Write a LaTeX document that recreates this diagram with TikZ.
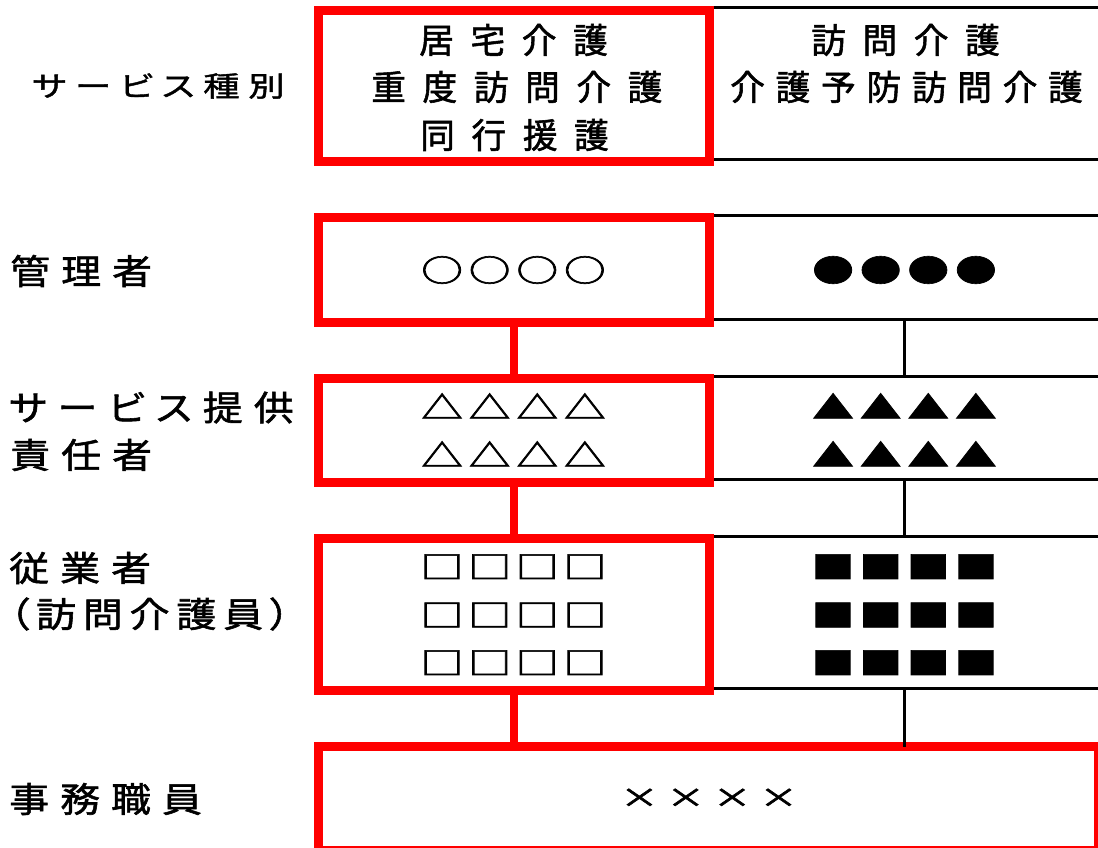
\documentclass[tikz,border=0pt]{standalone}
\usepackage{fontspec}
\setmainfont{Noto Sans CJK JP}
\newfontfamily\jpbox[LetterSpace=48,FakeBold=1.6]{Noto Sans CJK JP}
\newfontfamily\jpboxlong[LetterSpace=31,FakeBold=1.6]{Noto Sans CJK JP}
\newfontfamily\jplab[LetterSpace=32,FakeStretch=1.15,FakeBold=1.6,RawFeature=+palt]{Noto Sans CJK JP}
\newfontfamily\jplabtight[LetterSpace=20,FakeStretch=1.15,FakeBold=1.6,RawFeature=+palt]{Noto Sans CJK JP}
\newfontfamily\jpsmall[LetterSpace=31,FakeStretch=1.3,FakeBold=1.4,RawFeature=+palt]{Noto Sans CJK JP}
\newfontfamily\jpsym[FakeBold=2]{Noto Sans CJK JP}
\newcommand\symrow[2]{#1\hspace{#2}#1\hspace{#2}#1\hspace{#2}#1}
\begin{document}
\begin{tikzpicture}[x=0.75pt,y=-0.75pt,
  redbox/.style={draw=red, line width=6.75pt, inner sep=0pt, outer sep=0pt, rectangle, minimum width=292.875pt},
  cell/.style={inner sep=0pt, outer sep=0pt, rectangle, minimum width=293.25pt},
  blk/.style={line width=2.25pt, black},
  redlink/.style={draw=red, line width=6pt},
  boxtxt/.style={font=\fontsize{26pt}{26pt}\jpbox, anchor=west, inner sep=0pt},
  boxtxtlong/.style={font=\fontsize{26pt}{26pt}\jpboxlong, anchor=west, inner sep=0pt},
  lbl/.style={font=\fontsize{26pt}{26pt}\jplab, anchor=west, inner sep=0pt},
  lbltight/.style={font=\fontsize{26pt}{26pt}\jplabtight, anchor=west, inner sep=0pt},
  slbl/.style={font=\fontsize{21pt}{21pt}\jpsmall, anchor=west, inner sep=0pt},
  sym/.style={font=\fontsize{23pt}{23pt}\jpsym, anchor=center, inner sep=0pt},
  xsym/.style={font=\fontsize{20pt}{20pt}\jpsym, anchor=center, inner sep=0pt}]
\useasboundingbox (0,0) rectangle (1098,848);
% right column cells (black rules)
\node[cell, minimum height=113.625pt] (b1) at (904.5,83.75) {};
\node[cell, minimum height=77.625pt] (b2) at (904.5,267.75) {};
\node[cell, minimum height=77.625pt] (b3) at (904.5,427.75) {};
\node[cell, minimum height=114pt] (b4) at (904.5,612) {};
\foreach \b in {b1,b2,b3,b4}{
  \draw[blk] (\b.north west) -- (\b.north east) (\b.south west) -- (\b.south east);
}
% red boxes
\node[redbox, minimum height=113.625pt] (r1) at (513.75,86.25) {};
\node[redbox, minimum height=78pt] (r2) at (513.75,270) {};
\node[redbox, minimum height=78pt] (r3) at (513.75,430) {};
\node[redbox, minimum height=114pt] (r4) at (513.75,614) {};
\node[redbox, minimum width=585pt, minimum height=77.625pt] (r5) at (708.5,798.25) {};
% connectors
\draw[blk] (b2.south) -- (b3.north);
\draw[blk] (b3.south) -- (b4.north);
\draw[blk] (b4.south) -- (b4.south |- r5.north);
\draw[redlink] (r2.south) -- (r3.north);
\draw[redlink] (r3.south) -- (r4.north);
\draw[redlink] (r4.south) -- (r4.south |- r5.north);
% row labels
\node[slbl] (l1) at (32,86) {サービス種別};
\node[lbl] (l2) at (10,271) {管理者};
\node[lbl] (l3a) at (9,407.5) {サービス提供};
\node[lbl] (l3b) at (10,455) {責任者};
\node[lbl] (l4a) at (9,568) {従業者};
\node[lbltight] (l4b) at (9,614) {（訪問介護員）};
\node[lbl] (l5) at (9,799) {事務職員};
% box texts
\node[boxtxt] (t1a) at (419,40) {居宅介護};
\node[boxtxt] (t1b) at (371,87) {重度訪問介護};
\node[boxtxt] (t1c) at (420,135) {同行援護};
\node[boxtxt] (u1a) at (811,40) {訪問介護};
\node[boxtxtlong] (u1b) at (730,87) {介護予防訪問介護};
% symbols
\node[sym] (s2) at (513.5,270) {\scalebox{1.35}[1]{\symrow{○}{0.15em}}};
\node[sym] (v2) at (904.5,270) {\scalebox{1.35}[1]{\symrow{●}{0.15em}}};
\node[sym] (s3a) at (513.5,406) {\scalebox{1.35}[1]{\symrow{△}{0.15em}}};
\node[sym] (s3b) at (513.5,454) {\scalebox{1.35}[1]{\symrow{△}{0.15em}}};
\node[sym] (v3a) at (904.5,406) {\scalebox{1.35}[1]{\symrow{▲}{0.15em}}};
\node[sym] (v3b) at (904.5,454) {\scalebox{1.35}[1]{\symrow{▲}{0.15em}}};
\node[sym] (s4a) at (513.5,566.7) {\scalebox{1.4}[1]{\symrow{□}{0.11em}}};
\node[sym] (s4b) at (513.5,615) {\scalebox{1.4}[1]{\symrow{□}{0.11em}}};
\node[sym] (s4c) at (513.5,662.7) {\scalebox{1.4}[1]{\symrow{□}{0.11em}}};
\node[sym] (v4a) at (904.5,566.7) {\scalebox{1.4}[1]{\symrow{■}{0.11em}}};
\node[sym] (v4b) at (904.5,615) {\scalebox{1.4}[1]{\symrow{■}{0.11em}}};
\node[sym] (v4c) at (904.5,662.7) {\scalebox{1.4}[1]{\symrow{■}{0.11em}}};
\node[xsym] (s5) at (709,798) {\scalebox{1.45}[1]{\symrow{×}{0.2em}}};
\end{tikzpicture}
\end{document}
